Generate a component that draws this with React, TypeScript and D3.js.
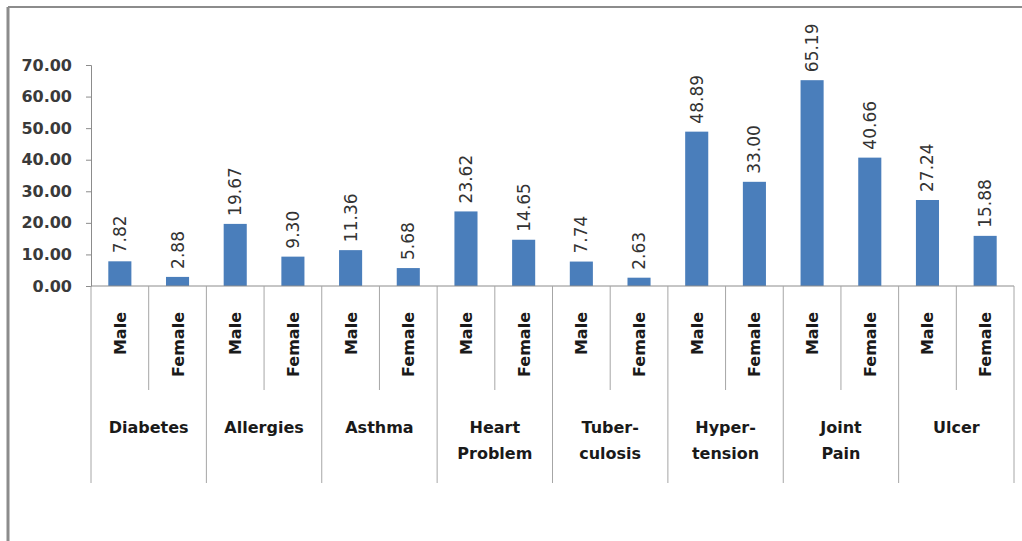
import React, { useEffect, useRef } from 'react';
import * as d3 from 'd3';

// disease groups, each split into Male / Female
const categories = ['Diabetes', 'Allergies', 'Asthma', 'Heart Problem', 'Tuber-culosis', 'Hyper-tension', 'Joint Pain', 'Ulcer'];
const categoryLines = [['Diabetes'], ['Allergies'], ['Asthma'], ['Heart', 'Problem'], ['Tuber-', 'culosis'], ['Hyper-', 'tension'], ['Joint', 'Pain'], ['Ulcer']];
const sexes = ['Male', 'Female'];
const maleValues = [7.82, 19.67, 11.36, 23.62, 7.74, 48.89, 65.19, 27.24];
const femaleValues = [2.88, 9.3, 5.68, 14.65, 2.63, 33.0, 40.66, 15.88];
const yTicks = [0, 10, 20, 30, 40, 50, 60, 70];

const FONT = '"DejaVu Sans", sans-serif';

export default function App() {
  const ref = useRef<SVGSVGElement>(null);

  useEffect(() => {
    if (!ref.current) return;
    const svg = d3.select(ref.current);
    svg.selectAll('*').remove();

    const left = 91;
    const right = 1014;
    const baseY = 286;

    // frame of the chart area (top and left edges visible)
    svg.append('line').attr('x1', 8).attr('x2', 1022).attr('y1', 7).attr('y2', 7).attr('stroke', '#8c8c8c').attr('stroke-width', 2);
    svg.append('line').attr('x1', 8).attr('x2', 8).attr('y1', 7).attr('y2', 541).attr('stroke', '#8c8c8c').attr('stroke-width', 3);

    const rows = categories.flatMap((c, i) => [
      { key: c + '|Male', cat: c, sex: 'Male', value: maleValues[i] },
      { key: c + '|Female', cat: c, sex: 'Female', value: femaleValues[i] },
    ]);

    const y = d3.scaleLinear().domain([0, 70]).range([baseY, 65]);
    const x = d3
      .scaleBand()
      .domain(rows.map((d) => d.key))
      .range([left, right])
      .paddingInner(0.6)
      .paddingOuter(0.3);
    const slot = d3.scaleBand().domain(rows.map((d) => d.key)).range([left, right]);
    const group = d3.scaleBand().domain(categories).range([left, right]);

    // y axis
    const yAxis = svg
      .append('g')
      .attr('transform', `translate(${left},0)`)
      .call(d3.axisLeft(y).tickValues(yTicks).tickSize(5).tickPadding(14).tickFormat((d) => (d as number).toFixed(2)));
    yAxis.select('.domain').attr('stroke', '#8c8c8c');
    yAxis.selectAll('.tick line').attr('stroke', '#8c8c8c');
    yAxis
      .selectAll('.tick text')
      .attr('font-family', FONT)
      .attr('font-weight', 'bold')
      .attr('font-size', 16)
      .attr('fill', '#3a3a3a');

    // bars
    svg
      .append('g')
      .selectAll('rect')
      .data(rows)
      .enter()
      .append('rect')
      .attr('x', (d) => x(d.key)!)
      .attr('y', (d) => y(d.value))
      .attr('width', x.bandwidth())
      .attr('height', (d) => baseY - y(d.value))
      .attr('fill', '#4a7ebb');

    // value labels, rotated
    svg
      .append('g')
      .selectAll('text')
      .data(rows)
      .enter()
      .append('text')
      .attr('transform', (d) => `translate(${x(d.key)! + x.bandwidth() / 2 + 6},${y(d.value) - 8}) rotate(-90)`)
      .attr('font-family', FONT)
      .attr('font-size', 17)
      .attr('fill', '#333')
      .text((d) => d.value.toFixed(2));

    // x axis line
    svg.append('line').attr('x1', left).attr('x2', right).attr('y1', baseY).attr('y2', baseY).attr('stroke', '#8c8c8c');

    // separators between Male / Female within each group
    svg
      .append('g')
      .selectAll('line')
      .data(categories)
      .enter()
      .append('line')
      .attr('x1', (c) => slot(c + '|Female')!)
      .attr('x2', (c) => slot(c + '|Female')!)
      .attr('y1', baseY)
      .attr('y2', 390)
      .attr('stroke', '#a6a6a6');

    // separators between groups
    const groupEdges = [...categories.map((c) => group(c)!), right];
    svg
      .append('g')
      .selectAll('line')
      .data(groupEdges)
      .enter()
      .append('line')
      .attr('x1', (d) => d)
      .attr('x2', (d) => d)
      .attr('y1', baseY)
      .attr('y2', 483)
      .attr('stroke', '#a6a6a6');

    // Male / Female labels
    svg
      .append('g')
      .selectAll('text')
      .data(rows)
      .enter()
      .append('text')
      .attr('transform', (d) => `translate(${slot(d.key)! + slot.bandwidth() / 2 + 6},312) rotate(-90)`)
      .attr('text-anchor', 'end')
      .attr('font-family', FONT)
      .attr('font-weight', 'bold')
      .attr('font-size', 16)
      .attr('fill', '#1a1a1a')
      .text((d) => d.sex);

    // category labels
    const catText = svg
      .append('g')
      .selectAll('text')
      .data(categories)
      .enter()
      .append('text')
      .attr('x', (c) => group(c)! + group.bandwidth() / 2)
      .attr('y', 433)
      .attr('text-anchor', 'middle')
      .attr('font-family', FONT)
      .attr('font-weight', 'bold')
      .attr('font-size', 16)
      .attr('fill', '#1a1a1a');
    catText
      .selectAll('tspan')
      .data((c, i) => categoryLines[i].map((t) => ({ t, c })))
      .enter()
      .append('tspan')
      .attr('x', (d) => group(d.c)! + group.bandwidth() / 2)
      .attr('dy', (d, i) => (i === 0 ? 0 : 26))
      .text((d) => d.t);
  }, []);

  return (
    <svg
      ref={ref}
      width={1022}
      height={541}
      style={{ position: 'absolute', left: 0, top: 0, background: '#fff' }}
    />
  );
}
